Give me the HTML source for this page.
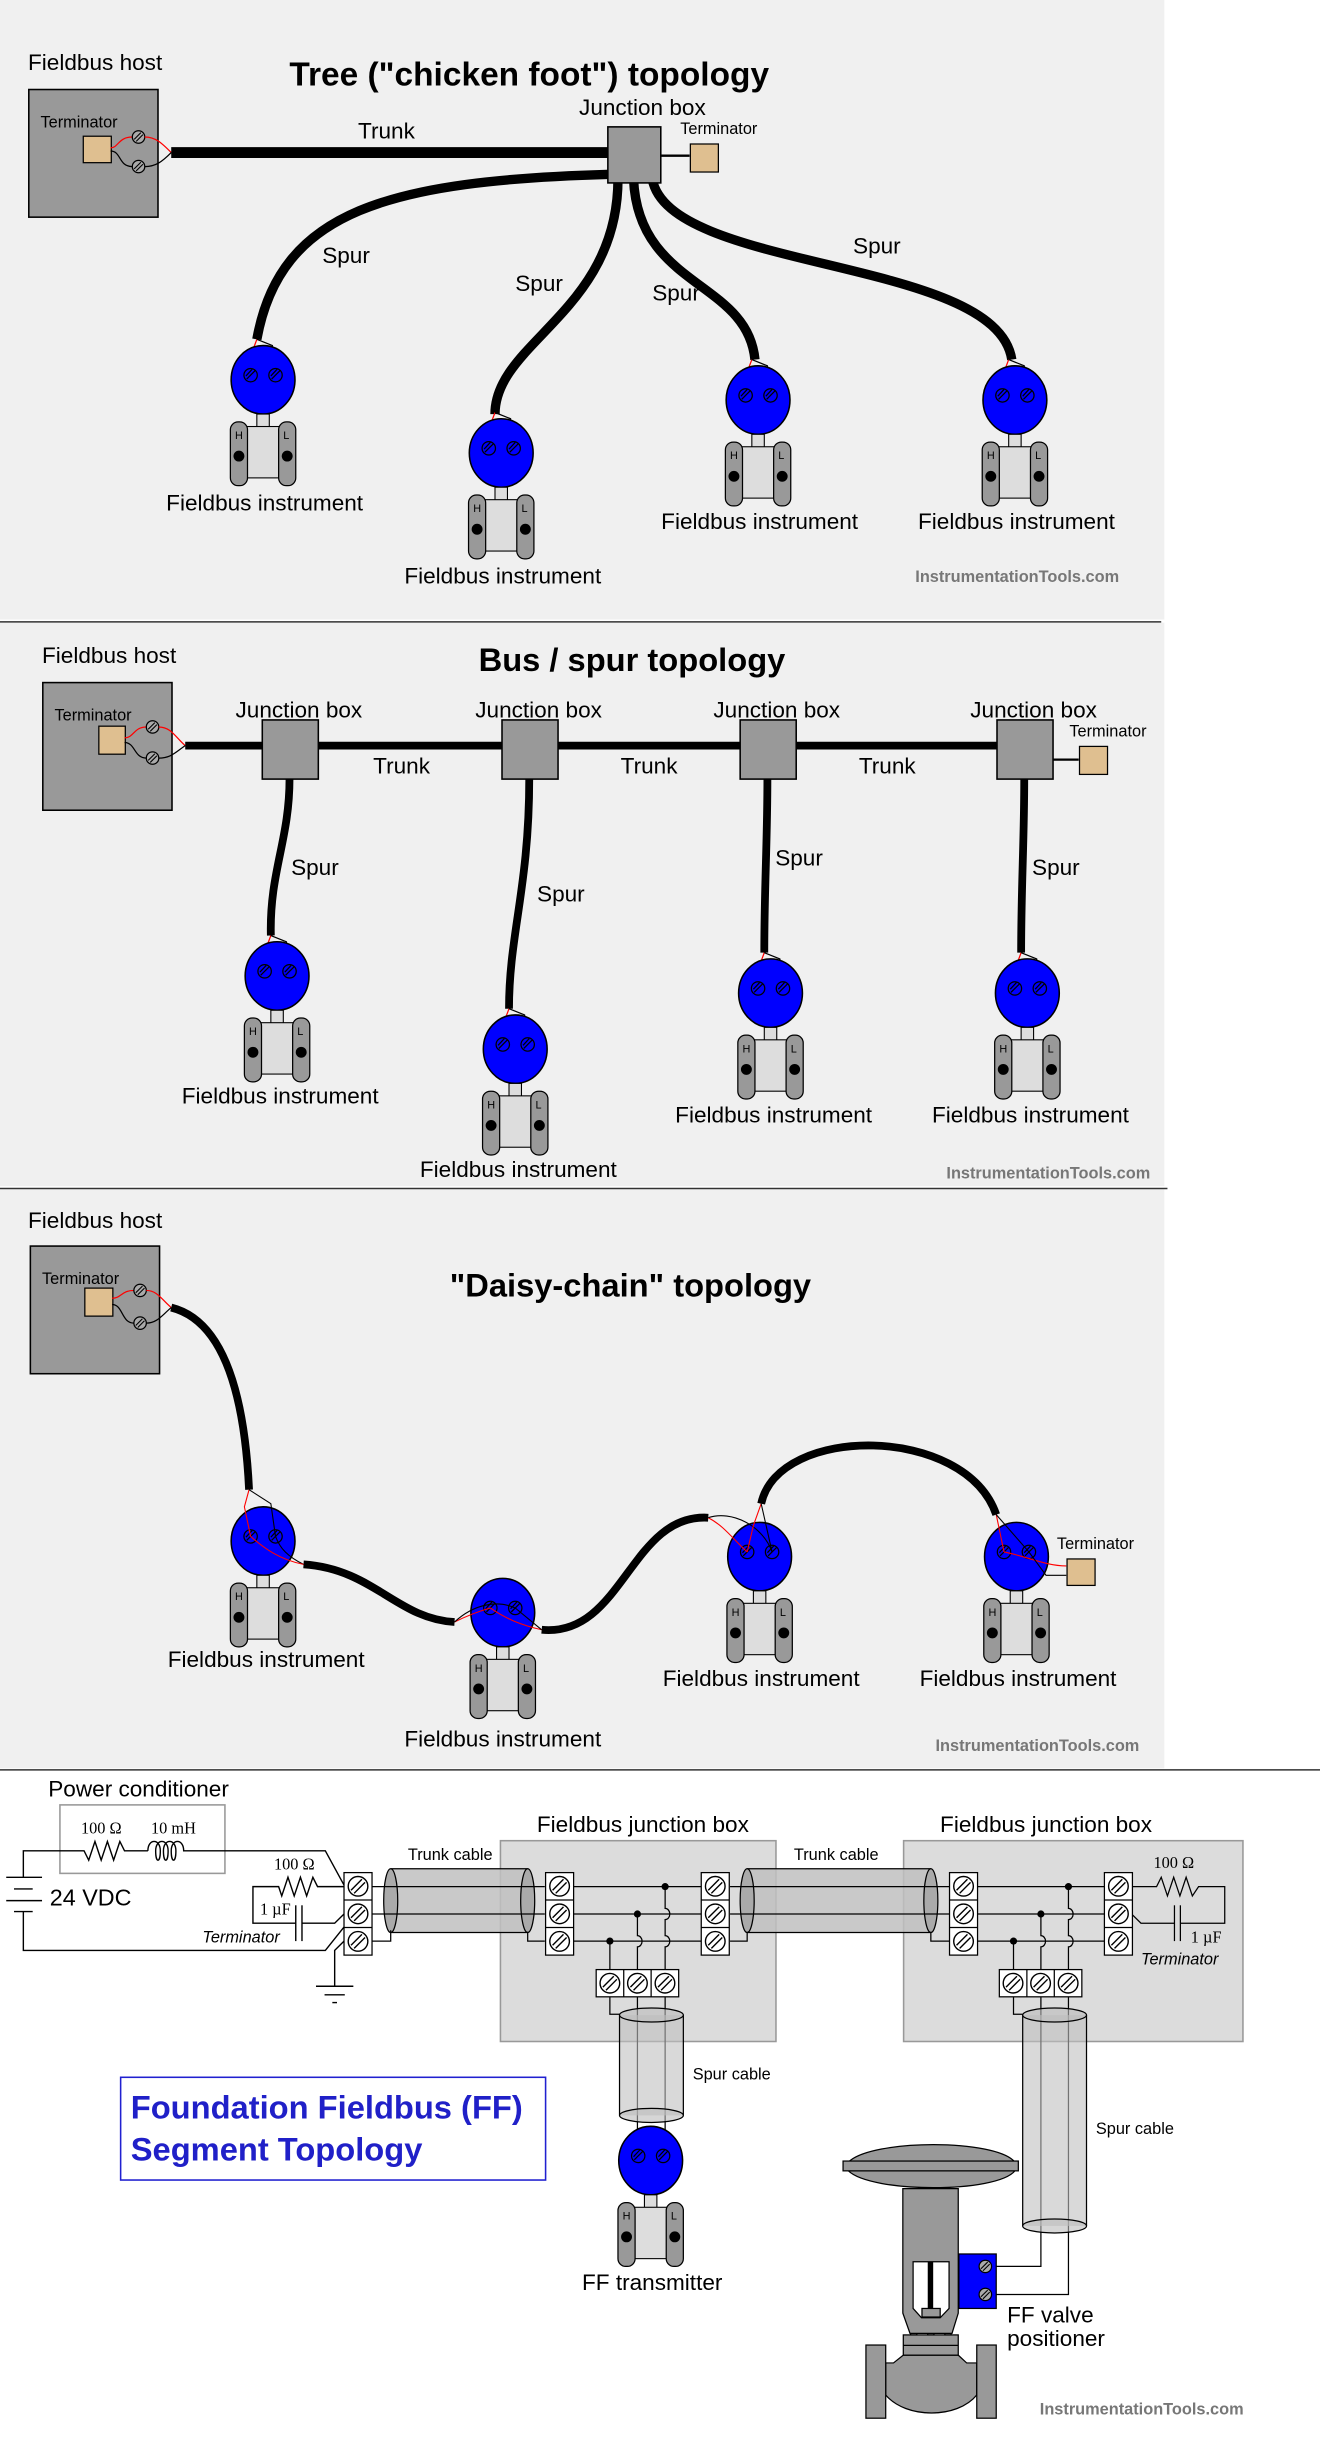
<!DOCTYPE html>
<html><head><meta charset="utf-8"><style>
html,body{margin:0;padding:0;background:#fff;}
svg{display:block;}
text{font-family:"Liberation Sans",sans-serif;fill:#000;}
.s{font-family:"Liberation Serif",serif;}
</style></head><body>
<svg width="1320" height="2440" viewBox="0 0 848 1567.5" xmlns="http://www.w3.org/2000/svg">
<defs>
<g id="inst">
<ellipse cx="0" cy="0" rx="20.5" ry="22" fill="#0000ff" stroke="#000" stroke-width="1"/>
<circle cx="-8" cy="-3" r="4.3" fill="none" stroke="#000" stroke-width="0.8"/>
<line x1="-10.5" y1="-0.5" x2="-5" y2="-6" stroke="#000" stroke-width="0.8"/>
<line x1="-11" y1="-2.5" x2="-7" y2="-6.8" stroke="#000" stroke-width="0.8"/>
<circle cx="8" cy="-3" r="4.3" fill="none" stroke="#000" stroke-width="0.8"/>
<line x1="5.5" y1="-0.5" x2="11" y2="-6" stroke="#000" stroke-width="0.8"/>
<line x1="5" y1="-2.5" x2="9" y2="-6.8" stroke="#000" stroke-width="0.8"/>
<rect x="-4" y="22" width="8" height="9" fill="#ddd" stroke="#000" stroke-width="0.7"/>
<rect x="-12" y="30" width="24" height="33" fill="#ddd" stroke="#000" stroke-width="0.7"/>
<rect x="-21" y="27" width="11" height="41" rx="5" fill="#999" stroke="#000" stroke-width="0.8"/>
<rect x="10" y="27" width="11" height="41" rx="5" fill="#999" stroke="#000" stroke-width="0.8"/>
<circle cx="-15.5" cy="49" r="3.5" fill="#000"/>
<circle cx="15.5" cy="49" r="3.5" fill="#000"/>
</g>
<g id="leads">
<path d="M-4,-26 L-7,-18 L-8,-3" fill="none" stroke="#f00" stroke-width="0.8"/>
<path d="M-4,-26 L6,-22 L8,-3" fill="none" stroke="#000" stroke-width="0.8"/>
</g>
<g id="scr">
<circle cx="0" cy="0" r="6.3" fill="#fff" stroke="#000" stroke-width="0.9"/>
<line x1="-4.5" y1="2.5" x2="2.5" y2="-4.5" stroke="#000" stroke-width="0.9"/>
<line x1="-2.5" y1="4.5" x2="4.5" y2="-2.5" stroke="#000" stroke-width="0.9"/>
</g>
<g id="tb3">
<rect x="0" y="0" width="18" height="53" fill="#fff" stroke="#000" stroke-width="0.8"/>
<line x1="0" y1="17.6" x2="18" y2="17.6" stroke="#000" stroke-width="0.8"/>
<line x1="0" y1="35.3" x2="18" y2="35.3" stroke="#000" stroke-width="0.8"/>
<use href="#scr" x="9" y="8.8"/><use href="#scr" x="9" y="26.5"/><use href="#scr" x="9" y="44.2"/>
</g>
<g id="tbh">
<rect x="0" y="0" width="53" height="17.5" fill="#fff" stroke="#000" stroke-width="0.8"/>
<line x1="17.7" y1="0" x2="17.7" y2="17.5" stroke="#000" stroke-width="0.8"/>
<line x1="35.3" y1="0" x2="35.3" y2="17.5" stroke="#000" stroke-width="0.8"/>
<use href="#scr" x="8.8" y="8.75"/><use href="#scr" x="26.5" y="8.75"/><use href="#scr" x="44.2" y="8.75"/>
</g>
<g id="hscr">
<circle cx="0" cy="0" r="4" fill="#aaa" stroke="#000" stroke-width="0.8"/>
<line x1="-2.8" y1="1.5" x2="1.5" y2="-2.8" stroke="#000" stroke-width="0.7"/>
<line x1="-1.5" y1="2.8" x2="2.8" y2="-1.5" stroke="#000" stroke-width="0.7"/>
</g>
</defs>

<rect x="0" y="0" width="748" height="398" fill="#f0f0f0"/>
<rect x="0" y="400" width="748" height="362" fill="#f0f0f0"/>
<rect x="0" y="764" width="748" height="372" fill="#f0f0f0"/>
<line x1="0" y1="399.5" x2="746" y2="399.5" stroke="#333" stroke-width="1"/>
<line x1="0" y1="763.5" x2="750" y2="763.5" stroke="#333" stroke-width="1"/>
<line x1="0" y1="1137" x2="848" y2="1137" stroke="#333" stroke-width="1"/>

<!-- PANEL 1 -->
<text x="18" y="45" font-size="14.5">Fieldbus host</text>
<text x="340" y="55" font-size="21.5" font-weight="bold" text-anchor="middle">Tree ("chicken foot") topology</text>
<rect x="18.5" y="57.5" width="83" height="82" fill="#999" stroke="#000"/>
<text x="26" y="82" font-size="10.5">Terminator</text>
<rect x="53.5" y="87.5" width="18" height="17" fill="#dfbf90" stroke="#000" stroke-width="0.8"/>
<path d="M71,95 C76,95 76,88 85,88" fill="none" stroke="#f00" stroke-width="0.8"/>
<path d="M71,97 C78,97 76,107 85,107" fill="none" stroke="#000" stroke-width="0.8"/>
<use href="#hscr" x="89" y="88"/><use href="#hscr" x="89" y="107"/>
<path d="M93,88 C100,88 104,92 110,98" fill="none" stroke="#f00" stroke-width="0.8"/>
<path d="M93,107 C100,107 104,104 110,98" fill="none" stroke="#000" stroke-width="0.8"/>
<line x1="110" y1="98" x2="392" y2="98" stroke="#000" stroke-width="7"/>
<text x="230" y="89" font-size="14.5">Trunk</text>
<text x="372" y="74" font-size="14.5">Junction box</text>
<text x="437" y="86" font-size="10.5">Terminator</text>
<line x1="424" y1="100" x2="443" y2="100" stroke="#000" stroke-width="1.5"/>
<rect x="443.5" y="92.5" width="18" height="18" fill="#dfbf90" stroke="#000" stroke-width="0.8"/>
<g fill="none" stroke="#000" stroke-width="6">
<path d="M392,112 C250,116 180,135 165,218"/>
<path d="M397,115 C397,200 318,220 318,266"/>
<path d="M407,115 C410,185 480,180 485,231"/>
<path d="M419,115 C430,175 640,165 650,231"/>
</g>
<rect x="390.5" y="81.5" width="34" height="36" fill="#999" stroke="#000"/>
<text x="207" y="169" font-size="14.5">Spur</text>
<text x="331" y="187" font-size="14.5">Spur</text>
<text x="419" y="193" font-size="14.5">Spur</text>
<text x="548" y="163" font-size="14.5">Spur</text>

<g transform="translate(169,244)"><use href="#leads"/><use href="#inst"/><text x="-18" y="38" font-size="7">H</text><text x="13" y="38" font-size="7">L</text></g>
<g transform="translate(322,291)"><use href="#leads"/><use href="#inst"/><text x="-18" y="38" font-size="7">H</text><text x="13" y="38" font-size="7">L</text></g>
<g transform="translate(487,257)"><use href="#leads"/><use href="#inst"/><text x="-18" y="38" font-size="7">H</text><text x="13" y="38" font-size="7">L</text></g>
<g transform="translate(652,257)"><use href="#leads"/><use href="#inst"/><text x="-18" y="38" font-size="7">H</text><text x="13" y="38" font-size="7">L</text></g>
<text x="170" y="328" font-size="14.5" text-anchor="middle">Fieldbus instrument</text>
<text x="323" y="375" font-size="14.5" text-anchor="middle">Fieldbus instrument</text>
<text x="488" y="340" font-size="14.5" text-anchor="middle">Fieldbus instrument</text>
<text x="653" y="340" font-size="14.5" text-anchor="middle">Fieldbus instrument</text>
<text x="588" y="374" font-size="10.5" font-weight="bold" style="fill:#777">InstrumentationTools.com</text>

<!-- PANEL 2 -->
<text x="27" y="426" font-size="14.5">Fieldbus host</text>
<text x="406" y="431" font-size="21" font-weight="bold" text-anchor="middle">Bus / spur topology</text>
<rect x="27.5" y="438.5" width="83" height="82" fill="#999" stroke="#000"/>
<text x="35" y="463" font-size="10.5">Terminator</text>
<rect x="63.5" y="466.5" width="17" height="18" fill="#dfbf90" stroke="#000" stroke-width="0.8"/>
<path d="M80,474 C86,474 86,467 94,467" fill="none" stroke="#f00" stroke-width="0.8"/>
<path d="M80,477 C87,477 86,487 94,487" fill="none" stroke="#000" stroke-width="0.8"/>
<use href="#hscr" x="98" y="467"/><use href="#hscr" x="98" y="487"/>
<path d="M102,467 C110,467 113,474 119,479" fill="none" stroke="#f00" stroke-width="0.8"/>
<path d="M102,487 C110,487 113,483 119,479" fill="none" stroke="#000" stroke-width="0.8"/>
<line x1="119" y1="479" x2="676" y2="479" stroke="#000" stroke-width="5"/>
<line x1="676" y1="488" x2="693" y2="488" stroke="#000" stroke-width="1.5"/>
<rect x="693.5" y="479.5" width="18" height="18" fill="#dfbf90" stroke="#000" stroke-width="0.8"/>
<text x="687" y="473" font-size="10.5">Terminator</text>
<g fill="none" stroke="#000" stroke-width="5">
<path d="M186,500 C186,540 173,560 174,601"/>
<path d="M340,500 C340,570 327,600 327,648"/>
<path d="M493,500 C493,540 491,570 491,612"/>
<path d="M658,500 C658,540 656,570 656,612"/>
</g>
<rect x="168.5" y="462.5" width="36" height="38" fill="#999" stroke="#000"/>
<rect x="322.5" y="462.5" width="36" height="38" fill="#999" stroke="#000"/>
<rect x="475.5" y="462.5" width="36" height="38" fill="#999" stroke="#000"/>
<rect x="640.5" y="462.5" width="36" height="38" fill="#999" stroke="#000"/>
<text x="192" y="461" font-size="14.5" text-anchor="middle">Junction box</text>
<text x="346" y="461" font-size="14.5" text-anchor="middle">Junction box</text>
<text x="499" y="461" font-size="14.5" text-anchor="middle">Junction box</text>
<text x="664" y="461" font-size="14.5" text-anchor="middle">Junction box</text>
<text x="258" y="497" font-size="14.5" text-anchor="middle">Trunk</text>
<text x="417" y="497" font-size="14.5" text-anchor="middle">Trunk</text>
<text x="570" y="497" font-size="14.5" text-anchor="middle">Trunk</text>
<text x="187" y="562" font-size="14.5">Spur</text>
<text x="345" y="579" font-size="14.5">Spur</text>
<text x="498" y="556" font-size="14.5">Spur</text>
<text x="663" y="562" font-size="14.5">Spur</text>
<g transform="translate(178,627)"><use href="#leads"/><use href="#inst"/><text x="-18" y="38" font-size="7">H</text><text x="13" y="38" font-size="7">L</text></g>
<g transform="translate(331,674)"><use href="#leads"/><use href="#inst"/><text x="-18" y="38" font-size="7">H</text><text x="13" y="38" font-size="7">L</text></g>
<g transform="translate(495,638)"><use href="#leads"/><use href="#inst"/><text x="-18" y="38" font-size="7">H</text><text x="13" y="38" font-size="7">L</text></g>
<g transform="translate(660,638)"><use href="#leads"/><use href="#inst"/><text x="-18" y="38" font-size="7">H</text><text x="13" y="38" font-size="7">L</text></g>
<text x="180" y="709" font-size="14.5" text-anchor="middle">Fieldbus instrument</text>
<text x="333" y="756" font-size="14.5" text-anchor="middle">Fieldbus instrument</text>
<text x="497" y="721" font-size="14.5" text-anchor="middle">Fieldbus instrument</text>
<text x="662" y="721" font-size="14.5" text-anchor="middle">Fieldbus instrument</text>
<text x="608" y="757" font-size="10.5" font-weight="bold" style="fill:#777">InstrumentationTools.com</text>

<!-- PANEL 3 -->
<text x="18" y="789" font-size="14.5">Fieldbus host</text>
<text x="405" y="833" font-size="21" font-weight="bold" text-anchor="middle">"Daisy-chain" topology</text>
<rect x="19.5" y="800.5" width="83" height="82" fill="#999" stroke="#000"/>
<text x="27" y="825" font-size="10.5">Terminator</text>
<rect x="54.5" y="827.5" width="18" height="18" fill="#dfbf90" stroke="#000" stroke-width="0.8"/>
<path d="M72,834 C78,834 78,829 86,829" fill="none" stroke="#f00" stroke-width="0.8"/>
<path d="M72,838 C79,838 78,850 86,850" fill="none" stroke="#000" stroke-width="0.8"/>
<use href="#hscr" x="90" y="829"/><use href="#hscr" x="90" y="850"/>
<path d="M94,829 C101,829 104,835 110,840" fill="none" stroke="#f00" stroke-width="0.8"/>
<path d="M94,850 C101,850 104,845 110,840" fill="none" stroke="#000" stroke-width="0.8"/>
<g fill="none" stroke="#000" stroke-width="5">
<path d="M110,840 C150,850 158,915 160,957"/>
<path d="M195,1005 C240,1008 255,1040 292,1042"/>
<path d="M348,1047 C400,1052 405,972 455,975"/>
<path d="M489,966 C500,915 620,915 640,973"/>
</g>
<g transform="translate(169,990)"><use href="#inst"/><text x="-18" y="38" font-size="7">H</text><text x="13" y="38" font-size="7">L</text></g>
<g transform="translate(323,1036)"><use href="#inst"/><text x="-18" y="38" font-size="7">H</text><text x="13" y="38" font-size="7">L</text></g>
<g transform="translate(488,1000)"><use href="#inst"/><text x="-18" y="38" font-size="7">H</text><text x="13" y="38" font-size="7">L</text></g>
<g transform="translate(653,1000)"><use href="#inst"/><text x="-18" y="38" font-size="7">H</text><text x="13" y="38" font-size="7">L</text></g>
<g fill="none" stroke-width="0.7">
<path d="M160,957 L157,968 L161,987" stroke="#f00"/><path d="M160,957 L174,966 L177,987" stroke="#000"/>
<path d="M195,1005 C185,1000 180,995 177,987" stroke="#000"/><path d="M195,1005 C180,1002 170,995 161,987" stroke="#f00"/>
<path d="M292,1042 C300,1038 308,1035 315,1033" stroke="#f00"/><path d="M292,1042 C305,1030 320,1028 331,1033" stroke="#000"/>
<path d="M348,1047 C335,1044 325,1040 315,1033" stroke="#f00"/><path d="M348,1047 L331,1033" stroke="#000"/>
<path d="M455,975 C465,980 472,990 480,997" stroke="#f00"/><path d="M455,975 C470,970 490,980 496,997" stroke="#000"/>
<path d="M489,966 L484,980 L480,997" stroke="#f00"/><path d="M489,966 L496,997" stroke="#000"/>
<path d="M640,973 L645,997" stroke="#f00"/><path d="M640,973 L661,997" stroke="#000"/>
<path d="M645,997 C660,1000 672,1006 685,1006" stroke="#f00"/><path d="M661,997 L672,1012 L685,1012" stroke="#000"/>
</g>
<text x="679" y="995" font-size="10.5">Terminator</text>
<rect x="685.5" y="1001.5" width="18" height="17" fill="#dfbf90" stroke="#000" stroke-width="0.8"/>
<text x="171" y="1071" font-size="14.5" text-anchor="middle">Fieldbus instrument</text>
<text x="323" y="1122" font-size="14.5" text-anchor="middle">Fieldbus instrument</text>
<text x="489" y="1083" font-size="14.5" text-anchor="middle">Fieldbus instrument</text>
<text x="654" y="1083" font-size="14.5" text-anchor="middle">Fieldbus instrument</text>
<text x="601" y="1125" font-size="10.5" font-weight="bold" style="fill:#777">InstrumentationTools.com</text>

<!-- BOTTOM -->
<text x="31" y="1154" font-size="14.5">Power conditioner</text>
<rect x="38.5" y="1159.5" width="106" height="44" fill="none" stroke="#999" stroke-width="1"/>
<text class="s" x="52" y="1178" font-size="10.5">100 Ω</text>
<text class="s" x="97" y="1178" font-size="10.5">10 mH</text>
<g fill="none" stroke="#000" stroke-width="0.9">
<path d="M15,1206 L15,1189 L54,1189 L57,1195 L61,1183 L65,1195 L69,1183 L73,1195 L77,1183 L80,1189 L95,1189"/>
<path d="M95,1189 c0,-8 8,-8 8,0 c0,8 -3,8 -3,0 c0,-8 8,-8 8,0 c0,8 -3,8 -3,0 c0,-8 8,-8 8,0 c0,8 -3,8 -3,0 c0,-8 8,-8 8,0 L136,1189 L209,1189 L221,1211"/>
<line x1="4" y1="1206" x2="27" y2="1206"/>
<line x1="9" y1="1213.5" x2="21" y2="1213.5"/>
<line x1="4" y1="1221" x2="27" y2="1221"/>
<line x1="9" y1="1228" x2="21" y2="1228"/>
<path d="M15,1228 L15,1253 L209,1253 L221,1238"/>
<path d="M221,1212 L204,1212 L201,1206 L197,1218 L193,1206 L189,1218 L185,1206 L181,1218 L179,1212 L162.5,1212 L162.5,1235.5 L190,1235.5"/>
<line x1="190" y1="1224" x2="190" y2="1247"/>
<line x1="194" y1="1224" x2="194" y2="1247"/>
<path d="M194,1235.5 L215,1235.5 L221,1229.6"/>
<path d="M221,1247 L215,1253 L215,1276"/>
<line x1="203" y1="1276" x2="227" y2="1276"/>
<line x1="208.5" y1="1281.5" x2="221.5" y2="1281.5"/>
<line x1="213.5" y1="1286.5" x2="216.5" y2="1286.5"/>
</g>
<text x="32" y="1224" font-size="15">24 VDC</text>
<text class="s" x="176" y="1201" font-size="10.5">100 Ω</text>
<text class="s" x="167" y="1230" font-size="10.5">1 µF</text>
<text x="130" y="1248" font-size="10.5" font-style="italic">Terminator</text>

<rect x="321.5" y="1182.5" width="177" height="129" fill="#dcdcdc" stroke="#999" stroke-width="1"/>
<rect x="580.5" y="1182.5" width="218" height="129" fill="#dcdcdc" stroke="#999" stroke-width="1"/>
<text x="413" y="1177" font-size="14.5" text-anchor="middle">Fieldbus junction box</text>
<text x="672" y="1177" font-size="14.5" text-anchor="middle">Fieldbus junction box</text>

<g stroke="#000" stroke-width="0.8">
<rect x="251" y="1200.5" width="88" height="41" fill="#c0c0c0" fill-opacity="0.85" stroke="none"/>
<line x1="251" y1="1200.5" x2="339" y2="1200.5"/><line x1="251" y1="1241.5" x2="339" y2="1241.5"/>
<ellipse cx="251" cy="1221" rx="4.5" ry="20.5" fill="#aaa"/>
<ellipse cx="339" cy="1221" rx="4.5" ry="20.5" fill="#aaa"/>
<rect x="480" y="1200.5" width="118" height="41" fill="#c0c0c0" fill-opacity="0.85" stroke="none"/>
<line x1="480" y1="1200.5" x2="598" y2="1200.5"/><line x1="480" y1="1241.5" x2="598" y2="1241.5"/>
<ellipse cx="480" cy="1221" rx="4.5" ry="20.5" fill="#aaa"/>
<ellipse cx="598" cy="1221" rx="4.5" ry="20.5" fill="#aaa"/>
</g>
<text x="262" y="1195" font-size="10.5">Trunk cable</text>
<text x="510" y="1195" font-size="10.5">Trunk cable</text>

<g fill="none" stroke="#000" stroke-width="0.8">
<line x1="238" y1="1212" x2="350" y2="1212"/>
<line x1="238" y1="1229.6" x2="350" y2="1229.6"/>
<path d="M238,1247 L251,1247 L251,1240"/><path d="M339,1241 L339,1247 L350,1247"/>
<line x1="368" y1="1212" x2="451" y2="1212"/>
<line x1="368" y1="1229.6" x2="451" y2="1229.6"/>
<line x1="368" y1="1247" x2="451" y2="1247"/>
<line x1="469" y1="1212" x2="610" y2="1212"/>
<line x1="469" y1="1229.6" x2="610" y2="1229.6"/>
<path d="M469,1247 L480,1247 L480,1241"/><path d="M598,1241 L598,1247 L610,1247"/>
<line x1="627" y1="1212" x2="710" y2="1212"/>
<line x1="627" y1="1229.6" x2="710" y2="1229.6"/>
<line x1="627" y1="1247" x2="710" y2="1247"/>
<path d="M427.3,1212 L427.3,1226 a3,3.6 0 0 1 0,7.2 L427.3,1243.5 a3,3.6 0 0 1 0,7.2 L427.3,1265"/>
<path d="M409.5,1229.6 L409.5,1243.5 a3,3.6 0 0 1 0,7.2 L409.5,1265"/>
<path d="M391.8,1247 L391.8,1265"/>
<path d="M391.8,1283 L391.8,1294 L398,1294"/>
<line x1="409.5" y1="1283" x2="409.5" y2="1375"/>
<line x1="427.3" y1="1283" x2="427.3" y2="1375"/>
<path d="M686.4,1212 L686.4,1226 a3,3.6 0 0 1 0,7.2 L686.4,1243.5 a3,3.6 0 0 1 0,7.2 L686.4,1265"/>
<path d="M668.7,1229.6 L668.7,1243.5 a3,3.6 0 0 1 0,7.2 L668.7,1265"/>
<path d="M651.1,1247 L651.1,1265"/>
<path d="M651.1,1283 L651.1,1294 L657,1294"/>
<path d="M668.7,1283 L668.7,1456 L640,1456"/>
<path d="M686.4,1283 L686.4,1474 L640,1474"/>
<path d="M727,1212 L743,1212 L746,1206 L750,1218 L754,1206 L758,1218 L762,1206 L766,1218 L770,1212 L786.8,1212 L786.8,1235.5 L758.3,1235.5"/>
<line x1="754.5" y1="1224" x2="754.5" y2="1247"/>
<line x1="758.3" y1="1224" x2="758.3" y2="1247"/>
<path d="M754.5,1235.5 L733,1235.5 L727,1229.6"/>
</g>
<g fill="#000">
<circle cx="427.3" cy="1212" r="2.3"/><circle cx="409.5" cy="1229.6" r="2.3"/><circle cx="391.8" cy="1247" r="2.3"/>
<circle cx="686.4" cy="1212" r="2.3"/><circle cx="668.7" cy="1229.6" r="2.3"/><circle cx="651.1" cy="1247" r="2.3"/>
</g>
<text class="s" x="741" y="1200" font-size="10.5">100 Ω</text>
<text class="s" x="765" y="1248" font-size="10.5">1 µF</text>
<text x="733" y="1262" font-size="10.5" font-style="italic">Terminator</text>

<use href="#tb3" x="221" y="1203"/>
<use href="#tb3" x="350.5" y="1203"/>
<use href="#tb3" x="450.5" y="1203"/>
<use href="#tb3" x="610" y="1203"/>
<use href="#tb3" x="709.5" y="1203"/>
<use href="#tbh" x="383" y="1265.3"/>
<use href="#tbh" x="642" y="1265.3"/>

<g stroke="#000" stroke-width="0.8">
<rect x="398" y="1294.5" width="41" height="64.5" fill="#c0c0c0" fill-opacity="0.6" stroke="none"/>
<line x1="398" y1="1294.5" x2="398" y2="1359"/><line x1="439" y1="1294.5" x2="439" y2="1359"/>
<ellipse cx="418.5" cy="1294.5" rx="20.5" ry="4.5" fill="#bbb" fill-opacity="0.6"/>
<ellipse cx="418.5" cy="1359" rx="20.5" ry="4.5" fill="#bbb" fill-opacity="0.6"/>
<rect x="657" y="1294.5" width="41" height="135.5" fill="#c0c0c0" fill-opacity="0.6" stroke="none"/>
<line x1="657" y1="1294.5" x2="657" y2="1430"/><line x1="698" y1="1294.5" x2="698" y2="1430"/>
<ellipse cx="677.5" cy="1294.5" rx="20.5" ry="4.5" fill="#bbb" fill-opacity="0.6"/>
<ellipse cx="677.5" cy="1430" rx="20.5" ry="4.5" fill="#bbb" fill-opacity="0.6"/>
</g>
<text x="445" y="1336" font-size="10.5">Spur cable</text>
<text x="704" y="1371" font-size="10.5">Spur cable</text>

<g transform="translate(418,1388)"><use href="#inst"/><text x="-18" y="38" font-size="7">H</text><text x="13" y="38" font-size="7">L</text></g>
<text x="419" y="1471" font-size="14.5" text-anchor="middle">FF transmitter</text>

<rect x="77.5" y="1334.5" width="273" height="66" fill="#fff" stroke="#2020d0" stroke-width="1"/>
<text x="84" y="1361" font-size="21" font-weight="bold" style="fill:#2020c8">Foundation Fieldbus (FF)</text>
<text x="84" y="1388" font-size="21" font-weight="bold" style="fill:#2020c8">Segment Topology</text>

<!-- Control valve -->
<g stroke="#000" stroke-width="0.8">
<path d="M569,1518 L574,1518 L580.3,1513 L615.6,1513 L621,1518 L627.5,1518 L627.5,1538.6 C615,1554 582,1554 569,1538.6 Z" fill="#999"/>
<rect x="556.3" y="1506.5" width="12.7" height="47" fill="#999"/>
<rect x="627.5" y="1506.5" width="12.5" height="47" fill="#999"/>
<rect x="580.3" y="1500" width="35.3" height="13" fill="#999"/>
<line x1="580.3" y1="1506.7" x2="615.6" y2="1506.7"/>
<rect x="585" y="1495" width="4" height="5" fill="#999"/>
<rect x="596" y="1495" width="4" height="5" fill="#999"/>
<rect x="607" y="1495" width="4" height="5" fill="#999"/>
<path d="M580,1406 L615.6,1406 L615.6,1486 L611.6,1499 L584.6,1499 L580,1486 Z" fill="#999"/>
<path d="M586.6,1453 L609.7,1453 L609.7,1483 L604,1489 L592,1489 L586.6,1483 Z" fill="#fff"/>
<rect x="596" y="1453" width="3.5" height="32" fill="#000" stroke="none"/>
<rect x="592.3" y="1483" width="11.7" height="5.5" fill="#999"/>
<path d="M545,1389 C560,1374 640,1374 652,1389 Z" fill="#999"/>
<path d="M545,1394.6 C560,1409 640,1409 652,1394.6 Z" fill="#999"/>
<rect x="541.6" y="1388.3" width="112.6" height="6.3" fill="#999"/>
<rect x="616" y="1448" width="24" height="35" fill="#0000ff"/>
</g>
<use href="#hscr" x="633" y="1456"/><use href="#hscr" x="633" y="1474"/>
<text x="647" y="1492" font-size="14.5">FF valve</text>
<text x="647" y="1507" font-size="14.5">positioner</text>
<text x="668" y="1551" font-size="10.5" font-weight="bold" style="fill:#777">InstrumentationTools.com</text>
</svg>
</body></html>
